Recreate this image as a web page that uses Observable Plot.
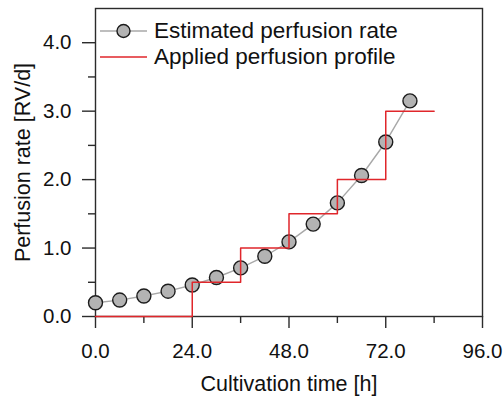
<!DOCTYPE html>
<html>
<head>
<meta charset="utf-8">
<script src="https://cdn.jsdelivr.net/npm/d3@7"></script>
<script src="https://cdn.jsdelivr.net/npm/@observablehq/plot@0.6"></script>
<style>
  body { margin: 0; background: #fff; }
  #wrap { position: relative; width: 503px; height: 397px; overflow: hidden; font-family: "Liberation Sans", Arial, sans-serif; }
  #legend { position: absolute; left: 99px; top: 18px; font-size: 22.5px; color: #111; }
  #legend .row { display: flex; align-items: center; height: 26px; }
  #legend svg { flex: none; }
</style>
</head>
<body>
<div id="wrap"></div>
<script>
// Estimated perfusion rate (measured points)
const timeH = [0, 6, 12, 18, 24, 30, 36, 42, 48, 54, 60, 66, 72, 78];
const estRate = [0.20, 0.24, 0.30, 0.37, 0.46, 0.57, 0.71, 0.88, 1.09, 1.35, 1.66, 2.06, 2.55, 3.15];

// Applied perfusion profile (step changes)
const stepTime = [0, 24, 36, 48, 60, 72, 84];
const stepRate = [0, 0.5, 1.0, 1.5, 2.0, 3.0, 3.0];

const xTicks = [0, 24, 48, 72, 96];
const xMinor = [12, 36, 60, 84];
const yTicks = [0, 1, 2, 3, 4];
const yMinor = [0.5, 1.5, 2.5, 3.5];

const seriesNames = ["Estimated perfusion rate", "Applied perfusion profile"];
const xTitle = "Cultivation time [h]";
const yTitle = "Perfusion rate [RV/d]";

const est = timeH.map((t, i) => ({t, v: estRate[i]}));
const steps = stepTime.map((t, i) => ({t, v: stepRate[i]}));

const ink = "#2b2b2b";
const red = "#e0262b";

const chart = Plot.plot({
  width: 503,
  height: 397,
  marginLeft: 95,
  marginRight: 21,
  marginTop: 8,
  marginBottom: 81,
  style: {fontFamily: "'Liberation Sans', Arial, sans-serif", fontSize: "20px", color: "#111", background: "#fff", overflow: "visible"},
  x: {domain: [0, 96]},
  y: {domain: [0, 4.5]},
  marks: [
    Plot.axisX({ticks: xMinor, tickSize: 7, text: null, stroke: ink, strokeWidth: 1.4, label: null}),
    Plot.axisY({ticks: yMinor, tickSize: 7, text: null, stroke: ink, strokeWidth: 1.4, label: null}),
    Plot.axisX({ticks: xTicks, tickSize: 12, tickPadding: 15, tickFormat: d3.format(".1f"), stroke: ink, strokeWidth: 1.4, fontSize: 20.5, fill: "#111", label: null}),
    Plot.axisY({ticks: yTicks, tickSize: 13, tickPadding: 11, tickFormat: d3.format(".1f"), stroke: ink, strokeWidth: 1.4, fontSize: 20.5, fill: "#111", label: null}),
    Plot.frame({stroke: ink, strokeWidth: 1.4}),
    Plot.line(est, {x: "t", y: "v", stroke: "#a8a8a8", strokeWidth: 1.4}),
    Plot.dot(est, {x: "t", y: "v", r: 7, fill: "#b3b3b3", stroke: "#1c1c1c", strokeWidth: 1.4}),
    Plot.line(steps, {x: "t", y: "v", curve: "step-after", stroke: red, strokeWidth: 1.5}),
    Plot.text([xTitle], {frameAnchor: "bottom", dy: 74, fontSize: 21.5, fill: "#111"}),
    Plot.text([yTitle], {frameAnchor: "left", dx: -72, rotate: -90, textAnchor: "middle", fontSize: 21.5, fill: "#111"})
  ]
});

const wrap = document.getElementById("wrap");
wrap.appendChild(chart);

const legend = document.createElement("div");
legend.id = "legend";
legend.innerHTML = `
  <div class="row"><svg width="55" height="26"><line x1="1" x2="48" y1="13" y2="13" stroke="#a8a8a8" stroke-width="1.4"/><circle cx="24.5" cy="13" r="6.5" fill="#b3b3b3" stroke="#1c1c1c" stroke-width="1.4"/></svg><span>${seriesNames[0]}</span></div>
  <div class="row"><svg width="55" height="26"><line x1="1" x2="48" y1="13" y2="13" stroke="${red}" stroke-width="1.5"/></svg><span>${seriesNames[1]}</span></div>`;
wrap.appendChild(legend);
</script>
</body>
</html>
